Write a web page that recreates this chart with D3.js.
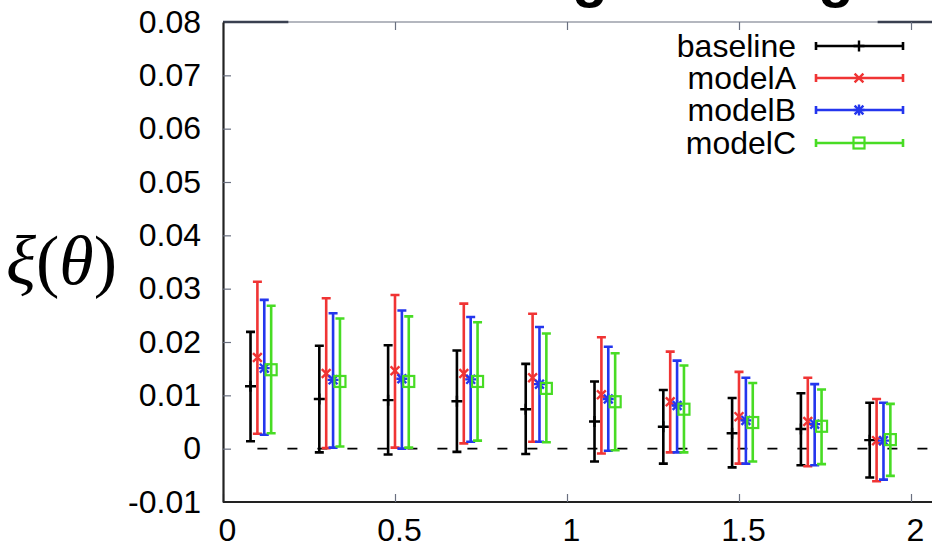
<!DOCTYPE html>
<html>
<head>
<meta charset="utf-8">
<script src="https://cdn.jsdelivr.net/npm/d3@7"></script>
<style>
  html, body { margin: 0; padding: 0; background: #fff; }
  svg { display: block; }
</style>
</head>
<body>
<svg id="chart" width="932" height="548"></svg>
<script>
// Angular bins (theta) and the small horizontal shift of each series inside a bin
const thetaBins = [0.1, 0.3, 0.5, 0.7, 0.9, 1.1, 1.3, 1.5, 1.7, 1.9];
const seriesNames = ["baseline", "modelA", "modelB", "modelC"];
const seriesShift = [-0.02, 0.0, 0.02, 0.04];
const seriesColors = ["#000000", "#f03434", "#2436ee", "#48dc24"];
const seriesMarkers = ["plus", "cross", "star", "square"];

// xi(theta): central value, lower and upper end of the error bar
const baselineMean = [0.0117, 0.0093, 0.0091, 0.0089, 0.0074, 0.0051, 0.0041, 0.0029, 0.0037, 0.0016];
const baselineLo   = [0.0014, -0.0007, -0.0011, -0.0006, -0.0010, -0.0024, -0.0028, -0.0035, -0.0031, -0.0054];
const baselineHi   = [0.0219, 0.0193, 0.0194, 0.0184, 0.0159, 0.0126, 0.0110, 0.0095, 0.0104, 0.0086];

const modelAMean = [0.0171, 0.0141, 0.0146, 0.0141, 0.0133, 0.0101, 0.0088, 0.0060, 0.0051, 0.0015];
const modelALo   = [0.0028, 0.0001, 0.0002, 0.0010, 0.0013, -0.0009, -0.0007, -0.0028, -0.0033, -0.0061];
const modelAHi   = [0.0313, 0.0282, 0.0288, 0.0272, 0.0253, 0.0209, 0.0182, 0.0144, 0.0133, 0.0093];

const modelBMean = [0.0151, 0.0129, 0.0131, 0.0130, 0.0121, 0.0093, 0.0081, 0.0053, 0.0046, 0.0015];
const modelBLo   = [0.0026, 0.0002, 0.0000, 0.0013, 0.0013, -0.0004, -0.0007, -0.0028, -0.0031, -0.0058];
const modelBHi   = [0.0279, 0.0254, 0.0259, 0.0247, 0.0228, 0.0191, 0.0165, 0.0133, 0.0121, 0.0086];

const modelCMean = [0.0148, 0.0126, 0.0126, 0.0126, 0.0113, 0.0088, 0.0074, 0.0049, 0.0042, 0.0017];
const modelCLo   = [0.0029, 0.0004, 0.0002, 0.0015, 0.0012, -0.0003, -0.0007, -0.0024, -0.0029, -0.0051];
const modelCHi   = [0.0268, 0.0244, 0.0248, 0.0237, 0.0216, 0.0179, 0.0156, 0.0123, 0.0111, 0.0084];

const xTickValues = [0, 0.5, 1, 1.5, 2];
const xTickLabels = ["0", "0.5", "1", "1.5", "2"];
const yTickValues = [-0.01, 0, 0.01, 0.02, 0.03, 0.04, 0.05, 0.06, 0.07, 0.08];
const yTickLabels = ["-0.01", "0", "0.01", "0.02", "0.03", "0.04", "0.05", "0.06", "0.07", "0.08"];

const means = [baselineMean, modelAMean, modelBMean, modelCMean];
const lows = [baselineLo, modelALo, modelBLo, modelCLo];
const highs = [baselineHi, modelAHi, modelBHi, modelCHi];

const series = seriesNames.map((name, s) => ({
  name, color: seriesColors[s], marker: seriesMarkers[s],
  points: thetaBins.map((t, i) => ({ x: t + seriesShift[s], y: means[s][i], lo: lows[s][i], hi: highs[s][i] }))
}));

const svg = d3.select("#chart");
const font = "'Liberation Sans', Arial, Helvetica, sans-serif";
const labelSize = 32;

const plot = { left: 223, top: 22, bottom: 502 };
const x = d3.scaleLinear().domain([0, 2.1]).range([plot.left, plot.left + 2.1 * 344]);
const y = d3.scaleLinear().domain([-0.01, 0.08]).range([plot.bottom, plot.top]);

// Title line above the frame (only its descenders fall inside the view)
svg.append("g")
  .attr("font-family", font).attr("font-weight", "bold").attr("font-size", 58).attr("fill", "#000")
  .selectAll("text").data([590, 836]).join("text")
  .attr("x", d => d).attr("y", -4).attr("text-anchor", "middle").text("g");

// Frame
const frame = svg.append("g");
frame.append("line").attr("x1", x(0)).attr("x2", 932).attr("y1", y(0.08)).attr("y2", y(0.08))
  .attr("stroke", "#6a7080").attr("stroke-width", 1.2);
frame.append("line").attr("x1", x(0)).attr("x2", x(0.19)).attr("y1", y(0.08)).attr("y2", y(0.08))
  .attr("stroke", "#3a4050").attr("stroke-width", 2.4);
frame.append("line").attr("x1", x(1.903)).attr("x2", 932).attr("y1", y(0.08)).attr("y2", y(0.08))
  .attr("stroke", "#3a4050").attr("stroke-width", 2.4);

// Bottom axis
const xAxis = d3.axisBottom(x).tickValues(xTickValues).tickFormat((d, i) => xTickLabels[i])
  .tickSizeInner(-8).tickSizeOuter(0).tickPadding(16);
const gx = svg.append("g").attr("transform", `translate(0,${plot.bottom})`).call(xAxis);
gx.select(".domain").attr("d", `M${x(0)},0H932`).attr("stroke", "#222").attr("stroke-width", 2.2);
gx.selectAll(".tick line").attr("stroke", "#6a7080").attr("stroke-width", 1.2);
gx.selectAll(".tick text").attr("font-family", font).attr("font-size", labelSize).attr("fill", "#000")
  .attr("dx", 4);

// Mirror ticks on the top edge
const xTop = d3.axisTop(x).tickValues(xTickValues.filter(v => v > 0)).tickFormat("")
  .tickSizeInner(-8).tickSizeOuter(0);
const gxt = svg.append("g").attr("transform", `translate(0,${plot.top})`).call(xTop);
gxt.select(".domain").remove();
gxt.selectAll(".tick line").attr("stroke", "#6a7080").attr("stroke-width", 1.2);

// Left axis
const yAxis = d3.axisLeft(y).tickValues(yTickValues).tickFormat((d, i) => yTickLabels[i])
  .tickSizeInner(-8).tickSizeOuter(0).tickPadding(22);
const gy = svg.append("g").attr("transform", `translate(${plot.left},0)`).call(yAxis);
gy.select(".domain").attr("stroke", "#222").attr("stroke-width", 2.2);
gy.selectAll(".tick line").attr("stroke", "#6a7080").attr("stroke-width", 1.2)
  .filter(d => d === -0.01 || d === 0.08).remove();
gy.selectAll(".tick text").attr("font-family", font).attr("font-size", labelSize).attr("fill", "#000");

// Axis title xi(theta)
const ylab = svg.append("text")
  .attr("font-family", "'Liberation Serif', 'DejaVu Serif', serif").attr("font-size", 70)
  .attr("x", 6).attr("y", 284).attr("fill", "#000");
ylab.append("tspan").attr("font-style", "italic").text("ξ");
ylab.append("tspan").text("(");
ylab.append("tspan").attr("font-style", "italic").text("θ");
ylab.append("tspan").text(")");

// Zero reference line, dashed from the first bin onwards
svg.append("line")
  .attr("x1", x(thetaBins[0])).attr("x2", 932).attr("y1", y(0)).attr("y2", y(0))
  .attr("stroke", "#000").attr("stroke-width", 1.8)
  .attr("stroke-dasharray", "10,20");

// Marker shapes
function drawMarker(g, type, cx, cy, color, r) {
  if (type === "plus" || type === "star") {
    g.append("path").attr("d", `M${cx - r},${cy}H${cx + r}M${cx},${cy - r}V${cy + r}`)
      .attr("stroke", color).attr("stroke-width", 2.4).attr("fill", "none");
  }
  if (type === "cross" || type === "star") {
    const k = r * 0.8;
    g.append("path").attr("d", `M${cx - k},${cy - k}L${cx + k},${cy + k}M${cx - k},${cy + k}L${cx + k},${cy - k}`)
      .attr("stroke", color).attr("stroke-width", 2.4).attr("fill", "none");
  }
  if (type === "square") {
    g.append("rect").attr("x", cx - r).attr("y", cy - r).attr("width", 2 * r).attr("height", 2 * r)
      .attr("stroke", color).attr("stroke-width", 2.2).attr("fill", "none");
  }
}

// Error bars
const capHalf = 4.5;
series.forEach(s => {
  const g = svg.append("g").attr("class", "series");
  s.points.forEach(p => {
    const px = x(p.x);
    g.append("path")
      .attr("d", `M${px},${y(p.lo)}V${y(p.hi)}M${px - capHalf},${y(p.lo)}H${px + capHalf}M${px - capHalf},${y(p.hi)}H${px + capHalf}`)
      .attr("stroke", s.color).attr("stroke-width", 2.6).attr("fill", "none");
    drawMarker(g, s.marker, px, y(p.y), s.color, 5.5);
  });
});

// Legend
const legend = svg.append("g");
const legendRows = [46, 78, 110, 143];
series.forEach((s, i) => {
  const ly = legendRows[i];
  legend.append("text").attr("x", 796).attr("y", ly).attr("dy", "0.35em")
    .attr("text-anchor", "end").attr("font-family", font).attr("font-size", labelSize).attr("fill", "#000")
    .text(s.name);
  legend.append("path")
    .attr("d", `M816,${ly}H903M816,${ly - 4}V${ly + 4}M903,${ly - 4}V${ly + 4}`)
    .attr("stroke", s.color).attr("stroke-width", 2.6).attr("fill", "none");
  drawMarker(legend, s.marker, 859, ly, s.color, 5.5);
});
</script>
</body>
</html>
